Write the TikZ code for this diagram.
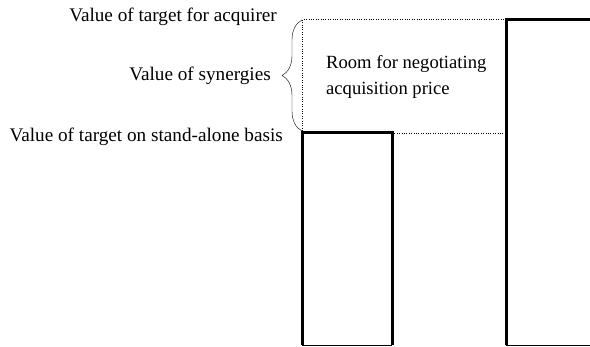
\documentclass[tikz,border=0pt]{standalone}
\usepackage{fontspec}
\setmainfont{Liberation Serif}
\usetikzlibrary{decorations.pathreplacing}

\tikzset{
	bar/.style={line width=3pt},
	room/.style={dotted, thin},
	label/.style={inner sep=0pt, font=\fontsize{19.2}{26}\selectfont},
	roomlabel/.style={inner sep=0pt, font=\fontsize{18.6}{26}\selectfont}
}

\begin{document}
\begin{tikzpicture}[x=1pt, y=-1pt]
	\useasboundingbox (0,0) rectangle (590,347);

	% value levels
	\coordinate (acq) at (302,19.5);
	\coordinate (alone) at (302,133);

	% bars
	\draw[bar] (302,345.5) -- (302,133) -- (392,133) -- (392,345.5);
	\draw[thin] (302,345.5) -- (392,345.5);
	\draw[bar] (506,345.5) -- (506,19.5) -- (591,19.5);
	\draw[thin] (506,345.5) -- (590,345.5);

	% negotiating room
	\draw[room] (alone) -- (acq) -- (506,19.5);
	\draw[room] (392,133) -- (506,133);

	\draw[decorate, decoration={brace, amplitude=20pt}, thin]
		(302,131) -- (302,20) coordinate[pos=0.5] (mid);

	\node[label, anchor=east] (forAcq) at (277,17) {Value of target for acquirer};
	\node[label, anchor=east] (syn) at (271,76) {Value of synergies};
	\node[label, anchor=east] (base) at (283,137) {Value of target on stand-alone basis};
	\node[roomlabel, anchor=west, align=left] (price) at (326,77)
		{Room for negotiating\\acquisition price};
\end{tikzpicture}
\end{document}
